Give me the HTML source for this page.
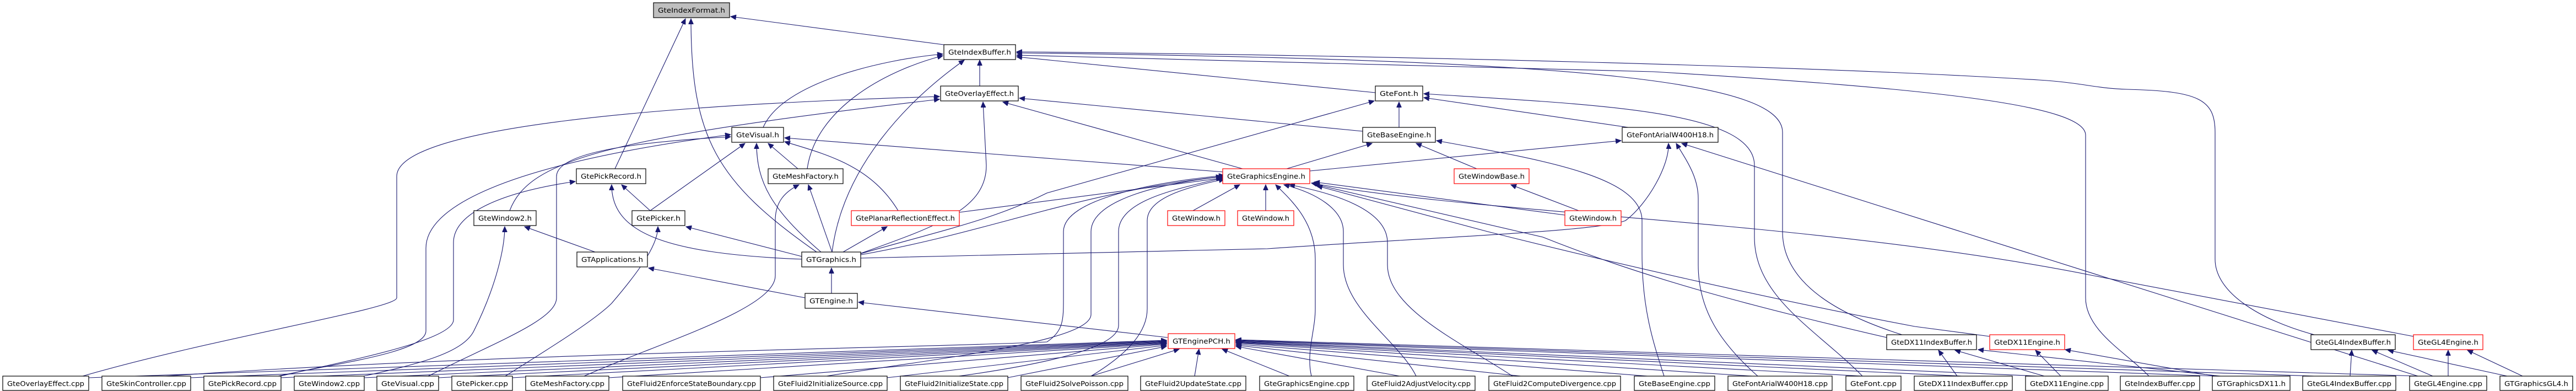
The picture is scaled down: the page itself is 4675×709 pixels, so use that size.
<!DOCTYPE html>
<html><head><meta charset="utf-8"><style>
html,body{margin:0;padding:0;background:#fff;}
svg{display:block;}
text{font-family:"DejaVu Sans","Liberation Sans",sans-serif;font-size:12px;fill:#000;}
.b{fill:#fff;stroke:#000;stroke-width:1.2;}
.r{fill:#fff;stroke:#ff0000;stroke-width:1.2;}
.g{fill:#bfbfbf;stroke:#000;stroke-width:1.2;}
.e{fill:none;stroke:#191970;stroke-width:1.1;marker-end:url(#a);}
</style></head><body>
<svg width="4675" height="709" viewBox="0 0 4675 709" xmlns="http://www.w3.org/2000/svg">
<defs><marker id="a" markerWidth="11" markerHeight="9" refX="10" refY="4.5" orient="auto" markerUnits="userSpaceOnUse"><path d="M0,0 L10,4.5 L0,9 z" fill="#191970" stroke="#191970"/></marker></defs>
<g>
<!-- edges -->
<path class="e" d="M1720,82 L1326,30"/>
<path class="e" d="M1116,306 L1244,34"/>
<path class="e" d="M1482,457 C1300,330 1254,250 1254,34"/>
<path class="e" d="M1778,156 L1778,109"/>
<path class="e" d="M1385,231 C1420,150 1600,108 1711,98"/>
<path class="e" d="M1465,306 C1480,200 1600,130 1711,101"/>
<path class="e" d="M1510,457 C1530,300 1650,180 1750,109"/>
<path class="e" d="M2496,168 L1845,103"/>
<path class="e" d="M3455,608 C3350,575 3235,520 3235,420 L3235,240 C3235,150 2900,108 1845,96"/>
<path class="e" d="M4200,607 C4100,580 4020,530 4020,470 L4020,240 C4020,180 3990,165 3860,162 C3800,160 3780,150 3700,145 C3300,120 2500,100 1845,94"/>
<path class="e" d="M3900,682 C3860,640 3785,600 3785,540 L3785,245 C3785,190 3500,160 3000,130 L1845,100"/>
<path class="e" d="M150,682 C400,610 720,560 720,540 L720,320 C720,230 1200,190 1705,175"/>
<path class="e" d="M925,382 C960,290 1100,250 1705,180"/>
<path class="e" d="M2255,306 L1820,185"/>
<path class="e" d="M1555,462 C1700,410 1790,380 1790,300 L1784,185"/>
<path class="e" d="M2473,238 L1850,178"/>
<path class="e" d="M2222,312 L1424,250"/>
<path class="e" d="M1448,306 L1394,260"/>
<path class="e" d="M1180,382 L1352,260"/>
<path class="e" d="M1490,457 C1400,380 1373,330 1373,260"/>
<path class="e" d="M1630,382 C1580,300 1500,280 1424,257"/>
<path class="e" d="M777,682 C900,620 1010,580 1010,540 L1010,320 C1010,270 1200,255 1326,248"/>
<path class="e" d="M505,682 C600,660 773,640 773,600 L773,450 C773,380 900,300 1326,244"/>
<path class="e" d="M509,682 C600,660 823,620 823,580 L823,440 C823,390 900,350 1044,329"/>
<path class="e" d="M660,682 C760,660 840,640 860,600 C900,520 916,450 916,411"/>
<path class="e" d="M1180,382 L1128,335"/>
<path class="e" d="M1455,470 C1200,460 1110,420 1110,335"/>
<path class="e" d="M1455,465 L1245,411"/>
<path class="e" d="M917,682 C1000,630 1080,580 1110,550 C1170,480 1194,440 1194,411"/>
<path class="e" d="M1080,457 L952,411"/>
<path class="e" d="M1461,540 L1177,486"/>
<path class="e" d="M1509,532 L1509,486"/>
<path class="e" d="M2119,612 L1558,548"/>
<path class="e" d="M1060,682 C1200,620 1407,560 1407,500 L1407,400 C1407,370 1420,350 1450,335"/>
<path class="e" d="M1510,457 L1467,335"/>
<path class="e" d="M1530,457 L1610,411"/>
<path class="e" d="M1741,385 L2217,323"/>
<path class="e" d="M1562,462 C1800,420 1950,350 2217,320"/>
<path class="e" d="M1562,460 C1700,420 1800,400 1900,350 L2494,183"/>
<path class="e" d="M1562,468 L2300,451 C2600,430 2900,420 2950,400 C2990,370 3030,300 3028,260"/>
<path class="e" d="M2377,310 L2942,255"/>
<path class="e" d="M2335,306 L2490,260"/>
<path class="e" d="M2539,231 L2539,185"/>
<path class="e" d="M2955,231 L2584,177"/>
<path class="e" d="M3380,682 C3300,600 3184,540 3184,430 L3184,300 C3184,200 2900,190 2584,170"/>
<path class="e" d="M3190,682 C3120,620 3082,560 3082,480 L3082,360 C3082,320 3060,290 3042,260"/>
<path class="e" d="M4388,682 L3052,260"/>
<path class="e" d="M3020,682 C3000,620 2980,560 2980,460 L2980,400 C2980,320 2800,290 2607,255"/>
<path class="e" d="M2680,306 L2570,260"/>
<path class="e" d="M2865,382 L2742,335"/>
<path class="e" d="M2840,390 L2385,330"/>
<path class="e" d="M2165,382 L2250,335"/>
<path class="e" d="M2297,382 L2297,335"/>
<path class="e" d="M3611,610 L3475,592 C3200,540 2900,470 2700,420 L2390,337"/>
<path class="e" d="M4380,610 L3800,500 C3300,400 2700,390 2380,332"/>
<path class="e" d="M3424,612 C3200,560 3000,510 2800,430 L2385,334"/>
<path class="e" d="M2380,682 C2370,640 2387,600 2387,560 L2387,470 C2387,400 2340,360 2315,335"/>
<path class="e" d="M2570,682 C2540,620 2438,560 2438,480 L2438,420 C2438,380 2390,350 2330,335"/>
<path class="e" d="M2745,682 C2650,620 2518,560 2518,480 L2518,440 C2518,380 2420,350 2340,335"/>
<path class="e" d="M1980,682 C2050,640 2082,600 2082,560 L2082,400 C2082,360 2150,340 2222,325"/>
<path class="e" d="M1740,682 C1900,660 2030,630 2030,590 L2030,420 C2030,360 2150,340 2222,322"/>
<path class="e" d="M1500,682 C1700,650 1980,620 1980,570 L1980,420 C1980,360 2120,330 2222,320"/>
<path class="e" d="M300,682 C900,640 1700,630 1900,620 C1930,600 1930,580 1930,540 L1930,420 C1930,360 2100,330 2222,318"/>
<!-- PCH fan -->
<path class="e" d="M160,685 L2117,617"/>
<path class="e" d="M345,685 L2117,618"/>
<path class="e" d="M508,685 L2117,619"/>
<path class="e" d="M660,685 L2117,620"/>
<path class="e" d="M795,685 L2117,621"/>
<path class="e" d="M929,685 L2117,622"/>
<path class="e" d="M1104,685 L2117,623"/>
<path class="e" d="M1379,685 L2117,624"/>
<path class="e" d="M1609,685 L2117,626"/>
<path class="e" d="M1828,685 L2117,628"/>
<path class="e" d="M1980,682 L2140,633"/>
<path class="e" d="M2168,682 L2176,633"/>
<path class="e" d="M2340,682 L2218,633"/>
<path class="e" d="M2540,682 L2243,628"/>
<path class="e" d="M2760,682 L2243,626"/>
<path class="e" d="M2990,682 L2243,624"/>
<path class="e" d="M3180,682 L2243,622"/>
<path class="e" d="M3380,682 L2243,621"/>
<path class="e" d="M3560,682 L2243,620"/>
<path class="e" d="M3700,682 L2243,619"/>
<path class="e" d="M4020,682 L2243,618"/>
<path class="e" d="M4200,682 L2243,617"/>
<path class="e" d="M4390,682 L2243,616"/>
<path class="e" d="M3552,682 L3518,635"/>
<path class="e" d="M3710,682 L3548,635"/>
<path class="e" d="M4030,682 L3590,634"/>
<path class="e" d="M3740,682 L3694,635"/>
<path class="e" d="M4020,682 L3748,634"/>
<path class="e" d="M4265,682 L4268,635"/>
<path class="e" d="M4415,682 L4305,635"/>
<path class="e" d="M4550,682 L4334,635"/>
<path class="e" d="M4443,682 L4443,635"/>
<path class="e" d="M4578,682 L4478,635"/>
</g>
<g>
<rect class="g" x="1186" y="5" width="138" height="27"/><text x="1194" y="23" textLength="122" lengthAdjust="spacingAndGlyphs">GteIndexFormat.h</text>
<rect class="b" x="1713" y="81" width="130" height="27"/><text x="1721" y="99" textLength="114" lengthAdjust="spacingAndGlyphs">GteIndexBuffer.h</text>
<rect class="b" x="1707" y="156" width="141" height="27"/><text x="1715" y="174" textLength="125" lengthAdjust="spacingAndGlyphs">GteOverlayEffect.h</text>
<rect class="b" x="2496" y="156" width="86" height="27"/><text x="2504" y="174" textLength="70" lengthAdjust="spacingAndGlyphs">GteFont.h</text>
<rect class="b" x="1328" y="231" width="94" height="27"/><text x="1336" y="249" textLength="78" lengthAdjust="spacingAndGlyphs">GteVisual.h</text>
<rect class="b" x="2473" y="231" width="132" height="27"/><text x="2481" y="249" textLength="116" lengthAdjust="spacingAndGlyphs">GteBaseEngine.h</text>
<rect class="b" x="2944" y="231" width="174" height="27"/><text x="2952" y="249" textLength="158" lengthAdjust="spacingAndGlyphs">GteFontArialW400H18.h</text>
<rect class="b" x="1046" y="306" width="126" height="27"/><text x="1054" y="324" textLength="110" lengthAdjust="spacingAndGlyphs">GtePickRecord.h</text>
<rect class="b" x="1394" y="306" width="136" height="27"/><text x="1402" y="324" textLength="120" lengthAdjust="spacingAndGlyphs">GteMeshFactory.h</text>
<rect class="r" x="2219" y="306" width="158" height="27"/><text x="2227" y="324" textLength="142" lengthAdjust="spacingAndGlyphs">GteGraphicsEngine.h</text>
<rect class="r" x="2639" y="306" width="136" height="27"/><text x="2647" y="324" textLength="120" lengthAdjust="spacingAndGlyphs">GteWindowBase.h</text>
<rect class="b" x="860" y="382" width="113" height="27"/><text x="868" y="400" textLength="97" lengthAdjust="spacingAndGlyphs">GteWindow2.h</text>
<rect class="b" x="1147" y="382" width="96" height="27"/><text x="1155" y="400" textLength="80" lengthAdjust="spacingAndGlyphs">GtePicker.h</text>
<rect class="r" x="1545" y="382" width="196" height="27"/><text x="1553" y="400" textLength="180" lengthAdjust="spacingAndGlyphs">GtePlanarReflectionEffect.h</text>
<rect class="r" x="2119" y="382" width="104" height="27"/><text x="2127" y="400" textLength="88" lengthAdjust="spacingAndGlyphs">GteWindow.h</text>
<rect class="r" x="2246" y="382" width="102" height="27"/><text x="2254" y="400" textLength="86" lengthAdjust="spacingAndGlyphs">GteWindow.h</text>
<rect class="r" x="2840" y="382" width="102" height="27"/><text x="2848" y="400" textLength="86" lengthAdjust="spacingAndGlyphs">GteWindow.h</text>
<rect class="b" x="1047" y="457" width="128" height="27"/><text x="1055" y="475" textLength="112" lengthAdjust="spacingAndGlyphs">GTApplications.h</text>
<rect class="b" x="1455" y="457" width="107" height="27"/><text x="1463" y="475" textLength="91" lengthAdjust="spacingAndGlyphs">GTGraphics.h</text>
<rect class="b" x="1461" y="532" width="95" height="27"/><text x="1469" y="550" textLength="79" lengthAdjust="spacingAndGlyphs">GTEngine.h</text>
<rect class="r" x="2120" y="605" width="121" height="27"/><text x="2128" y="623" textLength="105" lengthAdjust="spacingAndGlyphs">GTEnginePCH.h</text>
<rect class="b" x="3424" y="607" width="163" height="27"/><text x="3432" y="625" textLength="147" lengthAdjust="spacingAndGlyphs">GteDX11IndexBuffer.h</text>
<rect class="r" x="3611" y="607" width="136" height="27"/><text x="3619" y="625" textLength="120" lengthAdjust="spacingAndGlyphs">GteDX11Engine.h</text>
<rect class="b" x="4194" y="607" width="153" height="27"/><text x="4202" y="625" textLength="137" lengthAdjust="spacingAndGlyphs">GteGL4IndexBuffer.h</text>
<rect class="r" x="4380" y="607" width="126" height="27"/><text x="4388" y="625" textLength="110" lengthAdjust="spacingAndGlyphs">GteGL4Engine.h</text>
<!-- bottom row -->
<rect class="b" x="5" y="682" width="156" height="26"/><text x="13" y="700" textLength="140" lengthAdjust="spacingAndGlyphs">GteOverlayEffect.cpp</text>
<rect class="b" x="185" y="682" width="161" height="26"/><text x="193" y="700" textLength="145" lengthAdjust="spacingAndGlyphs">GteSkinController.cpp</text>
<rect class="b" x="370" y="682" width="140" height="26"/><text x="378" y="700" textLength="124" lengthAdjust="spacingAndGlyphs">GtePickRecord.cpp</text>
<rect class="b" x="534" y="682" width="127" height="26"/><text x="542" y="700" textLength="111" lengthAdjust="spacingAndGlyphs">GteWindow2.cpp</text>
<rect class="b" x="684" y="682" width="112" height="26"/><text x="692" y="700" textLength="96" lengthAdjust="spacingAndGlyphs">GteVisual.cpp</text>
<rect class="b" x="820" y="682" width="110" height="26"/><text x="828" y="700" textLength="94" lengthAdjust="spacingAndGlyphs">GtePicker.cpp</text>
<rect class="b" x="954" y="682" width="151" height="26"/><text x="962" y="700" textLength="135" lengthAdjust="spacingAndGlyphs">GteMeshFactory.cpp</text>
<rect class="b" x="1130" y="682" width="250" height="26"/><text x="1138" y="700" textLength="234" lengthAdjust="spacingAndGlyphs">GteFluid2EnforceStateBoundary.cpp</text>
<rect class="b" x="1404" y="682" width="206" height="26"/><text x="1412" y="700" textLength="190" lengthAdjust="spacingAndGlyphs">GteFluid2InitializeSource.cpp</text>
<rect class="b" x="1634" y="682" width="195" height="26"/><text x="1642" y="700" textLength="179" lengthAdjust="spacingAndGlyphs">GteFluid2InitializeState.cpp</text>
<rect class="b" x="1853" y="682" width="194" height="26"/><text x="1861" y="700" textLength="178" lengthAdjust="spacingAndGlyphs">GteFluid2SolvePoisson.cpp</text>
<rect class="b" x="2070" y="682" width="191" height="26"/><text x="2078" y="700" textLength="175" lengthAdjust="spacingAndGlyphs">GteFluid2UpdateState.cpp</text>
<rect class="b" x="2286" y="682" width="171" height="26"/><text x="2294" y="700" textLength="155" lengthAdjust="spacingAndGlyphs">GteGraphicsEngine.cpp</text>
<rect class="b" x="2481" y="682" width="196" height="26"/><text x="2489" y="700" textLength="180" lengthAdjust="spacingAndGlyphs">GteFluid2AdjustVelocity.cpp</text>
<rect class="b" x="2702" y="682" width="239" height="26"/><text x="2710" y="700" textLength="223" lengthAdjust="spacingAndGlyphs">GteFluid2ComputeDivergence.cpp</text>
<rect class="b" x="2966" y="682" width="146" height="26"/><text x="2974" y="700" textLength="130" lengthAdjust="spacingAndGlyphs">GteBaseEngine.cpp</text>
<rect class="b" x="3136" y="682" width="189" height="26"/><text x="3144" y="700" textLength="173" lengthAdjust="spacingAndGlyphs">GteFontArialW400H18.cpp</text>
<rect class="b" x="3350" y="682" width="100" height="26"/><text x="3358" y="700" textLength="84" lengthAdjust="spacingAndGlyphs">GteFont.cpp</text>
<rect class="b" x="3474" y="682" width="178" height="26"/><text x="3482" y="700" textLength="162" lengthAdjust="spacingAndGlyphs">GteDX11IndexBuffer.cpp</text>
<rect class="b" x="3676" y="682" width="150" height="26"/><text x="3684" y="700" textLength="134" lengthAdjust="spacingAndGlyphs">GteDX11Engine.cpp</text>
<rect class="b" x="3848" y="682" width="144" height="26"/><text x="3856" y="700" textLength="128" lengthAdjust="spacingAndGlyphs">GteIndexBuffer.cpp</text>
<rect class="b" x="4015" y="682" width="141" height="26"/><text x="4023" y="700" textLength="125" lengthAdjust="spacingAndGlyphs">GTGraphicsDX11.h</text>
<rect class="b" x="4179" y="682" width="169" height="26"/><text x="4187" y="700" textLength="153" lengthAdjust="spacingAndGlyphs">GteGL4IndexBuffer.cpp</text>
<rect class="b" x="4373" y="682" width="140" height="26"/><text x="4381" y="700" textLength="124" lengthAdjust="spacingAndGlyphs">GteGL4Engine.cpp</text>
<rect class="b" x="4537" y="682" width="132" height="26"/><text x="4545" y="700" textLength="116" lengthAdjust="spacingAndGlyphs">GTGraphicsGL4.h</text>
</g>
</svg>
</body></html>
